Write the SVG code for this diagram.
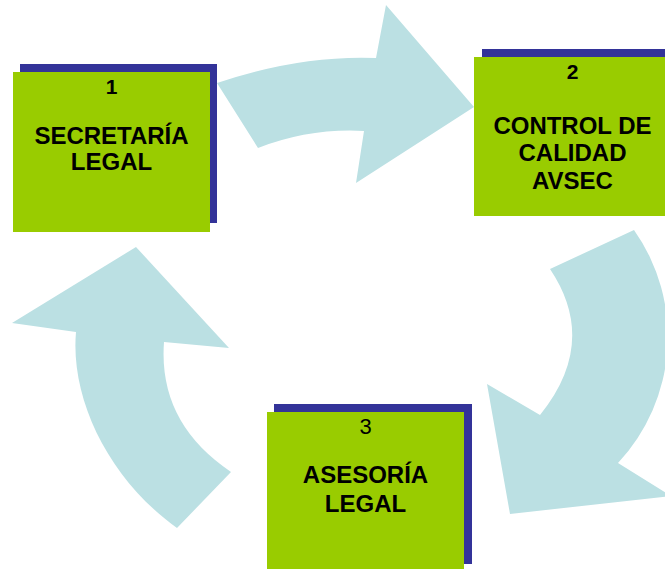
<svg xmlns="http://www.w3.org/2000/svg" width="665" height="569" viewBox="0 0 665 569">
<style>
.shadow{fill:#333399}
.box{fill:#99CC00}
.arrow{fill:#BBE0E3}
text{font-family:"Liberation Sans",Arial,sans-serif;fill:#000;text-anchor:middle}
.num{font-size:21px;font-weight:bold}
.numr{font-size:22px}
.lbl{font-size:24px;font-weight:bold}
</style>
<rect width="665" height="569" fill="#fff"/>
<g id="connectors">
<path class="arrow" d="M 217 83 Q 300 55 376 58 L 386 5 L 474 107 L 356 183 L 364 131 Q 310 128 258 148 Z"/>
<path class="arrow" d="M 634 230 A 185 185 0 0 1 618 463 L 671 496 L 510 514 L 487 384 L 540 415 Q 599 342 550 269 Z"/>
<path class="arrow" d="M 136 247 L 229 348 L 164 342 Q 158 423 231 472 L 177 528 C 110 480 70 400 76 332 L 12 323 Z"/>
</g>
<g id="node1">
<rect class="shadow" x="20" y="64" width="197" height="159"/>
<rect class="box" x="13" y="72" width="197" height="160"/>
<text class="num" x="111.5" y="94">1</text>
<text class="lbl" x="111.5" y="144">SECRETARÍA</text>
<text class="lbl" x="111.5" y="170">LEGAL</text>
</g>
<g id="node2">
<rect class="shadow" x="482" y="49" width="197" height="159"/>
<rect class="box" x="474" y="57" width="197" height="159"/>
<text class="num" x="572.5" y="79">2</text>
<text class="lbl" x="572.5" y="134">CONTROL DE</text>
<text class="lbl" x="572.5" y="161">CALIDAD</text>
<text class="lbl" x="572.5" y="189">AVSEC</text>
</g>
<g id="node3">
<rect class="shadow" x="274" y="404" width="198" height="160"/>
<rect class="box" x="267" y="412" width="197" height="160"/>
<text class="numr" x="365.5" y="434">3</text>
<text class="lbl" x="365.5" y="483">ASESORÍA</text>
<text class="lbl" x="365.5" y="512">LEGAL</text>
</g>
</svg>
